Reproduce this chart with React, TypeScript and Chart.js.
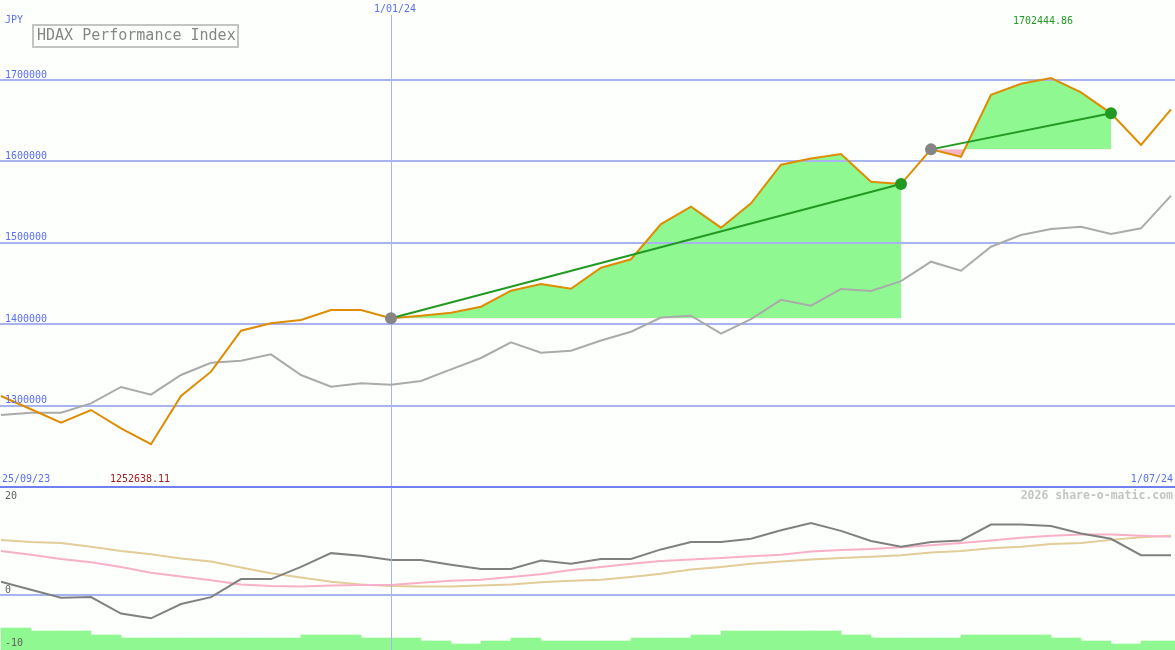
import React, { useEffect, useRef } from 'react';
import { Chart, registerables } from 'chart.js';

Chart.register(...registerables);

// ---- data (weekly, offsets in weeks relative to 1/01/24) ----
const weeks = [-13, -12, -11, -10, -9, -8, -7, -6, -5, -4, -3, -2, -1, 0, 1, 2, 3, 4, 5, 6, 7, 8, 9, 10, 11, 12, 13, 14, 15, 16, 17, 18, 19, 20, 21, 22, 23, 24, 25, 26];

const priceIndex = [1311900, 1295600, 1279100, 1294700, 1272200, 1252638.11, 1311900, 1341800, 1392100, 1401200, 1405300, 1417600, 1417600,
  1407500, 1410500, 1414300, 1421600, 1441300, 1449500, 1443700, 1469500, 1479900, 1523200, 1544500, 1518700, 1548700, 1596000,
  1603800, 1609100, 1575100, 1572300, 1614900, 1605800, 1681900, 1695400, 1702444.86, 1685000, 1659200, 1620300, 1664000];

const benchmark = [1288600, 1291400, 1291400, 1302900, 1323000, 1313500, 1337700, 1352800, 1355300, 1363100, 1337700, 1323400, 1327500,
  1325800, 1330300, 1344700, 1358600, 1377900, 1365100, 1367600, 1380000, 1390900, 1408300, 1410500, 1388500, 1406300, 1430000,
  1422900, 1443400, 1441000, 1453000, 1476900, 1465800, 1495300, 1509700, 1517100, 1519900, 1510900, 1517900, 1558000];

const oscMain = [2.5, 1.0, -0.5, -0.4, -3.5, -4.4, -1.7, -0.4, 3.0, 3.0, 5.3, 7.9, 7.4,
  6.6, 6.6, 5.7, 4.9, 4.9, 6.5, 5.9, 6.8, 6.8, 8.6, 10.0, 10.0, 10.6, 12.2,
  13.6, 12.1, 10.2, 9.1, 10.0, 10.3, 13.3, 13.3, 13.0, 11.6, 10.6, 7.5, 7.5];

const oscSignal = [8.3, 7.6, 6.8, 6.2, 5.3, 4.2, 3.5, 2.8, 2.0, 1.7, 1.6, 1.8, 1.9,
  1.9, 2.3, 2.7, 2.9, 3.4, 3.9, 4.7, 5.3, 5.9, 6.4, 6.7, 7.0, 7.3, 7.6,
  8.2, 8.5, 8.7, 9.0, 9.4, 9.8, 10.3, 10.8, 11.2, 11.4, 11.4, 11.2, 11.0];

const oscSlow = [10.4, 10.0, 9.8, 9.1, 8.3, 7.7, 6.9, 6.3, 5.2, 4.1, 3.3, 2.5, 2.0,
  1.7, 1.6, 1.6, 1.8, 2.0, 2.4, 2.7, 2.9, 3.4, 4.0, 4.8, 5.3, 5.9, 6.3,
  6.7, 7.0, 7.2, 7.5, 8.0, 8.3, 8.8, 9.1, 9.6, 9.8, 10.4, 10.9, 11.2];

const volume = [22, 19, 19, 15, 12, 12, 12, 12, 12, 12, 15, 15, 12,
  12, 9, 6, 9, 12, 9, 9, 9, 12, 12, 15, 19, 19, 19,
  19, 15, 12, 12, 12, 15, 15, 15, 12, 9, 6, 9, 9];

const trendSegments = [[0, 17], [18, 24]];

const priceTicks = [1300000, 1400000, 1500000, 1600000, 1700000];
const priceTickLabels = ['1300000', '1400000', '1500000', '1600000', '1700000'];
const oscTicks = [20, 0, -10];
const oscTickLabels = ['20', '0', '-10'];
const dateLabels = ['25/09/23', '1/01/24', '1/07/24'];
const currencyLabel = 'JPY';
const titleText = 'HDAX Performance Index';
const maxLabel = '1702444.86';
const minLabel = '1252638.11';
const watermark = '2026 share-o-matic.com';

// ---- styles ----
const W = 1175;
const MAIN_H = 489;
const OSC_H = 161;
const X_MIN = -391 / 30;
const X_MAX = (W - 391) / 30;
const Y_MIN = 1197660;
const Y_MAX = 1798400;
const BG = '#fdfffd';
const GRID = '#a8b4f0';
const SEP = '#7080f0';
const BLUE_TXT = '#5a6ef0';
const ORANGE = '#de8c00';
const GREY_LINE = '#aaaaaa';
const TREND = '#229922';
const FILL_GREEN = '#90f890';
const FILL_PINK = '#f8b4c4';
const PINK = '#f8b0c8';
const TAN = '#e2cc98';
const MONO = '"DejaVu Sans Mono", monospace';

const idx = (w: number) => weeks.indexOf(w);
const price = (w: number) => priceIndex[idx(w)];
const pts = (vals: number[]) => weeks.map((w, i) => ({ x: w, y: vals[i] }));
const segPts = (a: number, b: number) => weeks.filter((w) => w >= a && w <= b).map((w) => ({ x: w, y: price(w) }));

const FILL_TOP_INDEX = 6;

const mainPlugin = {
  id: 'mainDecor',
  beforeDraw(chart: any) {
    const { ctx } = chart;
    ctx.save();
    ctx.fillStyle = BG;
    ctx.fillRect(0, 0, chart.width, chart.height);
    ctx.restore();
  },
  afterDatasetDraw(chart: any, args: any) {
    if (args.index !== FILL_TOP_INDEX) return;
    const { ctx, chartArea } = chart;
    const y = chart.scales.y;
    const x = chart.scales.x;
    ctx.save();
    ctx.strokeStyle = GRID;
    ctx.lineWidth = 2;
    priceTicks.forEach((v) => {
      const py = Math.round(y.getPixelForValue(v));
      ctx.beginPath();
      ctx.moveTo(0, py);
      ctx.lineTo(chart.width, py);
      ctx.stroke();
    });
    ctx.lineWidth = 1;
    const vx = Math.round(x.getPixelForValue(0)) + 0.5;
    ctx.beginPath();
    ctx.moveTo(vx, 15);
    ctx.lineTo(vx, chartArea.bottom);
    ctx.stroke();
    ctx.restore();
  },
  afterDraw(chart: any) {
    const { ctx } = chart;
    const y = chart.scales.y;
    const x = chart.scales.x;
    ctx.save();
    // separator
    ctx.strokeStyle = SEP;
    ctx.lineWidth = 2;
    const sy = Math.round(y.getPixelForValue(1200000));
    ctx.beginPath();
    ctx.moveTo(0, sy);
    ctx.lineTo(chart.width, sy);
    ctx.stroke();

    ctx.font = `10px ${MONO}`;
    ctx.textBaseline = 'middle';
    ctx.fillStyle = BLUE_TXT;
    ctx.textAlign = 'left';
    priceTicks.forEach((v, i) => {
      ctx.fillText(priceTickLabels[i], 5, y.getPixelForValue(v) - 5);
    });
    ctx.fillText(currencyLabel, 5, 20);
    ctx.fillText(dateLabels[0], 2, 479);
    ctx.textAlign = 'right';
    ctx.fillText(dateLabels[2], chart.width - 2, 479);
    ctx.textAlign = 'center';
    ctx.fillText(dateLabels[1], x.getPixelForValue(0) + 4, 9);

    // max / min labels
    const maxI = priceIndex.indexOf(Math.max(...priceIndex));
    const minI = priceIndex.indexOf(Math.min(...priceIndex));
    ctx.fillStyle = '#229922';
    ctx.fillText(maxLabel, x.getPixelForValue(weeks[maxI]) - 8, 21);
    ctx.fillStyle = '#a02020';
    ctx.fillText(minLabel, x.getPixelForValue(weeks[minI]) - 11, 479);

    // title box
    ctx.strokeStyle = '#c4c4c4';
    ctx.lineWidth = 2;
    ctx.strokeRect(33, 25, 205, 22);
    ctx.fillStyle = '#868686';
    ctx.font = `15px ${MONO}`;
    ctx.textAlign = 'left';
    ctx.fillText(titleText, 37, 36.5);
    ctx.restore();
  },
};

const oscPlugin = {
  id: 'oscDecor',
  beforeDraw(chart: any) {
    const { ctx } = chart;
    ctx.save();
    ctx.fillStyle = BG;
    ctx.fillRect(0, 0, chart.width, chart.height);
    const y = chart.scales.y;
    ctx.strokeStyle = GRID;
    ctx.lineWidth = 2;
    const py = Math.round(y.getPixelForValue(0));
    ctx.beginPath();
    ctx.moveTo(0, py);
    ctx.lineTo(chart.width, py);
    ctx.stroke();
    ctx.restore();
  },
  afterDraw(chart: any) {
    const { ctx } = chart;
    const y = chart.scales.y;
    const x = chart.scales.x;
    ctx.save();
    ctx.strokeStyle = GRID;
    ctx.lineWidth = 1;
    const vx = Math.round(x.getPixelForValue(0)) + 0.5;
    ctx.beginPath();
    ctx.moveTo(vx, 0);
    ctx.lineTo(vx, chart.height);
    ctx.stroke();

    ctx.font = `10px ${MONO}`;
    ctx.textBaseline = 'middle';
    ctx.textAlign = 'left';
    ctx.fillStyle = '#606060';
    oscTicks.forEach((v, i) => {
      const ty = Math.max(y.getPixelForValue(v) - 5, 7);
      ctx.fillText(oscTickLabels[i], 5, ty);
    });
    ctx.font = `bold 11.5px ${MONO}`;
    ctx.fillStyle = '#c4c4c4';
    ctx.textAlign = 'right';
    ctx.fillText(watermark, chart.width - 2, 7);
    ctx.restore();
  },
};

export default function App() {
  const mainRef = useRef<HTMLCanvasElement>(null);
  const oscRef = useRef<HTMLCanvasElement>(null);

  useEffect(() => {
    document.body.style.margin = '0';
    document.body.style.background = BG;

    const fillSets = trendSegments.map(([a, b]) => ({
      label: `fill${a}`,
      data: segPts(a, b),
      borderWidth: 0,
      borderColor: 'rgba(0,0,0,0)',
      backgroundColor: FILL_GREEN,
      pointRadius: 0,
      fill: { target: { value: price(a) }, above: FILL_GREEN, below: FILL_PINK },
    }));
    const trendSets = trendSegments.map(([a, b]) => ({
      label: `trend${a}`,
      data: [{ x: a, y: price(a) }, { x: b, y: price(b) }],
      borderColor: TREND,
      borderWidth: 2,
      pointRadius: 0,
      fill: false,
    }));

    const main = new Chart(mainRef.current!, {
      type: 'line',
      data: {
        datasets: [
          {
            label: 'end',
            data: trendSegments.map(([, b]) => ({ x: b, y: price(b) })),
            showLine: false,
            pointRadius: 6,
            pointBackgroundColor: TREND,
            pointBorderWidth: 0,
          },
          {
            label: 'start',
            data: trendSegments.map(([a]) => ({ x: a, y: price(a) })),
            showLine: false,
            pointRadius: 6,
            pointBackgroundColor: '#858585',
            pointBorderWidth: 0,
          },
          ...trendSets,
          { label: 'HDAX', data: pts(priceIndex), borderColor: ORANGE, borderWidth: 2, pointRadius: 0, fill: false },
          { label: 'bench', data: pts(benchmark), borderColor: GREY_LINE, borderWidth: 2, pointRadius: 0, fill: false },
          ...fillSets,
        ] as any,
      },
      options: {
        responsive: false,
        animation: false,
        devicePixelRatio: 1,
        events: [],
        layout: { padding: 0, autoPadding: false },
        plugins: { legend: { display: false }, tooltip: { enabled: false } },
        scales: {
          x: { type: 'linear', min: X_MIN, max: X_MAX, display: false, offset: false },
          y: { type: 'linear', min: Y_MIN, max: Y_MAX, display: false },
        },
      } as any,
      plugins: [mainPlugin],
    });

    const osc = new Chart(oscRef.current!, {
      type: 'line',
      data: {
        datasets: [
          { type: 'line', label: 'mom', data: pts(oscMain), borderColor: '#808080', borderWidth: 2, pointRadius: 0, fill: false },
          { type: 'line', label: 'sig', data: pts(oscSignal), borderColor: PINK, borderWidth: 2, pointRadius: 0, fill: false },
          { type: 'line', label: 'slow', data: pts(oscSlow), borderColor: TAN, borderWidth: 2, pointRadius: 0, fill: false },
          {
            type: 'bar',
            label: 'vol',
            data: weeks.map((w, i) => ({ x: w + 0.5, y: volume[i] })),
            backgroundColor: FILL_GREEN,
            borderWidth: 0,
            barPercentage: 1,
            categoryPercentage: 1,
            yAxisID: 'yv',
          },
        ] as any,
      },
      options: {
        responsive: false,
        animation: false,
        devicePixelRatio: 1,
        events: [],
        layout: { padding: 0, autoPadding: false },
        plugins: { legend: { display: false }, tooltip: { enabled: false } },
        scales: {
          x: { type: 'linear', min: X_MIN, max: X_MAX, display: false, offset: false, grid: { offset: false } },
          y: { type: 'linear', min: -55 / 5.3, max: 20, display: false },
          yv: { type: 'linear', min: 0, max: OSC_H, display: false },
        },
      } as any,
      plugins: [oscPlugin],
    });

    return () => {
      main.destroy();
      osc.destroy();
    };
  }, []);

  return (
    <div style={{ width: W, height: MAIN_H + OSC_H, background: BG }}>
      <canvas ref={mainRef} width={W} height={MAIN_H} style={{ display: 'block' }} />
      <canvas ref={oscRef} width={W} height={OSC_H} style={{ display: 'block' }} />
    </div>
  );
}
